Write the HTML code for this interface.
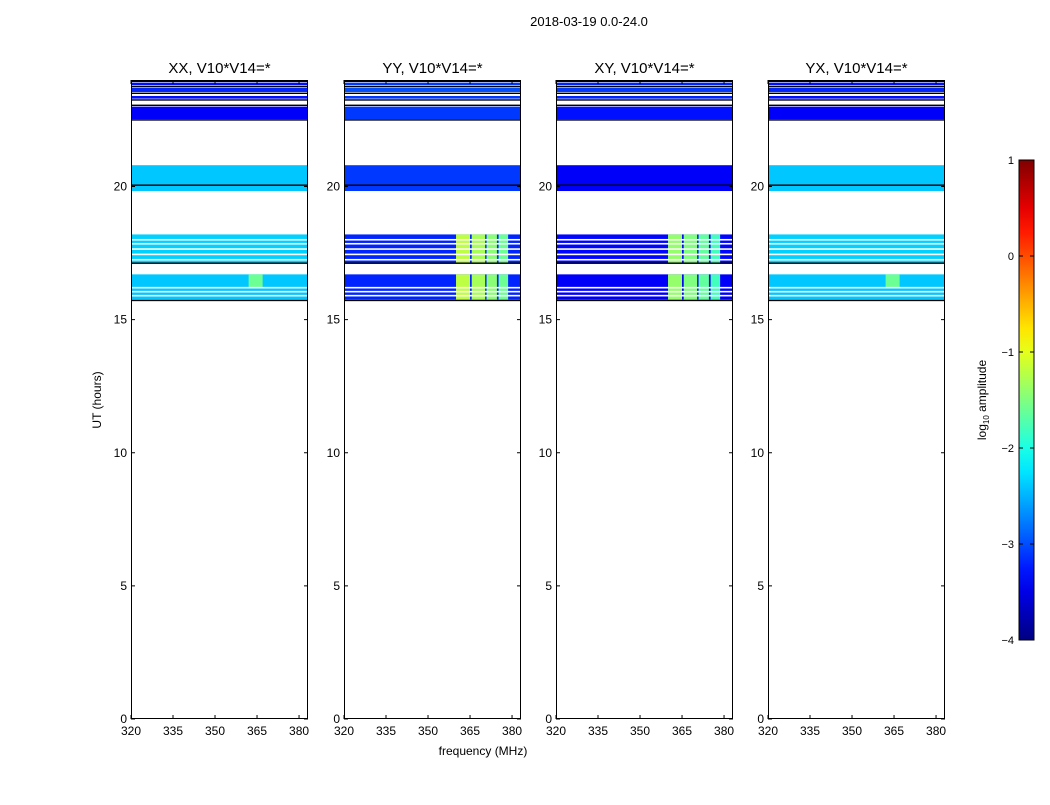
<!DOCTYPE html>
<html><head><meta charset="utf-8">
<style>
body{margin:0;background:#fff;}
svg text{font-family:"Liberation Sans",sans-serif;}
</style></head>
<body>
<svg id="fig" width="1050" height="800" xmlns="http://www.w3.org/2000/svg">
<rect width="1050" height="800" fill="#fff"/>
<text x="589" y="26" font-size="13" text-anchor="middle">2018-03-19 0.0-24.0</text>
<text x="483" y="755" font-size="12" text-anchor="middle">frequency (MHz)</text>
<text transform="translate(101,400) rotate(-90)" font-size="12" text-anchor="middle">UT (hours)</text>
<g id="panels"></g>
<g id="cbar"></g>
</svg>
<script>
// ---- data ----
const panelTitles = ["XX, V10*V14=*", "YY, V10*V14=*", "XY, V10*V14=*", "YX, V10*V14=*"];
const xTicks = [320, 335, 350, 365, 380];
const yTicks = [0, 5, 10, 15, 20];
// data bands (hours)
const bandStart = [15.75, 17.1, 19.83, 22.53, 23.3, 23.55, 23.8];
const bandEnd   = [16.7, 18.2, 20.8, 23.0, 23.4, 23.7, 23.9];
// log10 amplitude per band for each panel
const valXX = [-2.4, -2.35, -2.4, -3.4, -3.3, -3.2, -3.3];
const valYY = [-3.2, -3.2, -3.1, -3.1, -3.1, -3.0, -3.1];
const valXY = [-3.4, -3.35, -3.4, -3.3, -3.2, -3.1, -3.2];
const valYX = [-2.4, -2.35, -2.4, -3.4, -3.3, -3.2, -3.3];
const panelVals = [valXX, valYY, valXY, valYX];
// enhanced frequency stripes (MHz) in lower two bands
const stripeStart = [360, 365.6, 370.9, 375.2];
const stripeEnd   = [365.0, 370.4, 374.6, 378.6];
const stripeVal = [-1.2, -1.3, -1.45, -1.6];
const stripeBands = [0, 1];
// white gap lines within bands (hours)
const gapHours = [15.9, 16.05, 16.2, 17.25, 17.45, 17.65, 17.85, 18.0];
// black flag lines (hours)
const blackHours = [15.72, 17.12, 20.05, 22.5, 23.05, 23.25, 23.5, 23.75, 23.95];
const cbarTicks = [1, 0, -1, -2, -3, -4];
const fMin = 320, fMax = 383.2, hMin = 0, hMax = 24, vMin = -4, vMax = 1;

// ---- layout ----
const panelX = [131, 344, 556, 768], panelW = 177, plotTop = 80, plotBot = 719;
const NS = "http://www.w3.org/2000/svg";
function mk(tag, attrs, parent){const e=document.createElementNS(NS,tag);for(const k in attrs)e.setAttribute(k,attrs[k]);parent.appendChild(e);return e;}
function jet(v){let t=(v-vMin)/(vMax-vMin);t=Math.max(0,Math.min(1,t));
 const c=x=>Math.round(255*Math.max(0,Math.min(1,x)));
 const r=c(Math.min(4*t-1.5,-4*t+4.5)),g=c(Math.min(4*t-0.5,-4*t+3.5)),b=c(Math.min(4*t+0.5,-4*t+2.5));
 return `rgb(${r},${g},${b})`;}
const yS = h => plotBot - (h-hMin)/(hMax-hMin)*(plotBot-plotTop);

const gp = document.getElementById('panels');
panelTitles.forEach((title,pi)=>{
  const x0 = panelX[pi];
  const xS = f => x0 + (f-fMin)/(fMax-fMin)*panelW;
  const g = mk('g',{},gp);
  
  
  const vals = panelVals[pi];
  bandStart.forEach((s,bi)=>{
    const r = mk('rect',{x:x0,y:yS(bandEnd[bi]),width:panelW,height:yS(s)-yS(bandEnd[bi]),fill:jet(vals[bi])},g);
    
    
  });
  if(pi===1||pi===2){
    stripeBands.forEach(bi=>{
      stripeStart.forEach((fs,si)=>{
        const r = mk('rect',{x:xS(fs),y:yS(bandEnd[bi]),width:xS(stripeEnd[si])-xS(fs),height:yS(bandStart[bi])-yS(bandEnd[bi]),fill:jet(stripeVal[si]+(pi===2?-0.2:0))},g);
        
        
      });
    });
  }
  if(pi===0||pi===3){
    const r = mk('rect',{x:xS(362),y:yS(16.7),width:xS(367)-xS(362),height:yS(16.2)-yS(16.7),fill:jet(-1.6)},g);
    
    
  }
  gapHours.forEach(h=>{const l=mk('rect',{x:x0,y:yS(h)-0.8,width:panelW,height:1.6,fill:'#fff'},g);
    
    });
  blackHours.forEach(h=>{const l=mk('rect',{x:x0,y:yS(h)-0.7,width:panelW,height:1.4,fill:'#000'},g);
    
    });
  const fr = mk('rect',{x:x0+0.5,y:plotTop+0.5,width:panelW-1,height:plotBot-plotTop-1,fill:'none',stroke:'#000','stroke-width':1},g);
  
  
  const t = mk('text',{x:x0+panelW/2,y:plotTop-7,'font-size':15,'text-anchor':'middle'},g);
  t.textContent = title;
  
  
  xTicks.forEach(f=>{
    const x=xS(f);
    mk('line',{x1:x,x2:x,y1:plotBot,y2:plotBot-4,stroke:'#000'},g);
    mk('line',{x1:x,x2:x,y1:plotTop,y2:plotTop+4,stroke:'#000'},g);
    const tl = mk('text',{x:x,y:plotBot+16,'font-size':12,'text-anchor':'middle'},g);
    tl.textContent = f;
    
    
  });
  yTicks.forEach(h=>{
    const y=yS(h);
    mk('line',{x1:x0,x2:x0+4,y1:y,y2:y,stroke:'#000'},g);
    mk('line',{x1:x0+panelW,x2:x0+panelW-4,y1:y,y2:y,stroke:'#000'},g);
    const tl = mk('text',{x:x0-4,y:y+4,'font-size':12,'text-anchor':'end'},g);
    tl.textContent = h;
    
    
  });
});

// colorbar
const cb = document.getElementById('cbar');
const cbX=1019, cbW=15, cbT=160, cbB=640;
const cyS = v => cbB - (v-vMin)/(vMax-vMin)*(cbB-cbT);
const defs = mk('defs',{},cb);
const grad = mk('linearGradient',{id:'jetg',x1:0,y1:1,x2:0,y2:0},defs);
for(let i=0;i<=20;i++){const v=vMin+(vMax-vMin)*i/20;mk('stop',{offset:i/20,'stop-color':jet(v)},grad);}
const cr = mk('rect',{x:cbX,y:cbT,width:cbW,height:cbB-cbT,fill:'url(#jetg)',stroke:'#000','stroke-width':1},cb);


cbarTicks.forEach(v=>{
  const y=cyS(v);
  mk('line',{x1:cbX,x2:cbX+4,y1:y,y2:y,stroke:'#000'},cb);
  mk('line',{x1:cbX+cbW,x2:cbX+cbW-4,y1:y,y2:y,stroke:'#000'},cb);
  const tl = mk('text',{x:cbX-5,y:y+4,'font-size':11,'text-anchor':'end'},cb);
  tl.textContent = v<0 ? '\u2212'+Math.abs(v) : v;
  
  
});
const ct = mk('text',{transform:'translate(986,400) rotate(-90)','font-size':12,'text-anchor':'middle'},cb);
ct.innerHTML = 'log<tspan font-size="8" dy="3">10</tspan><tspan dy="-3"> amplitude</tspan>';


</script>
</body></html>
